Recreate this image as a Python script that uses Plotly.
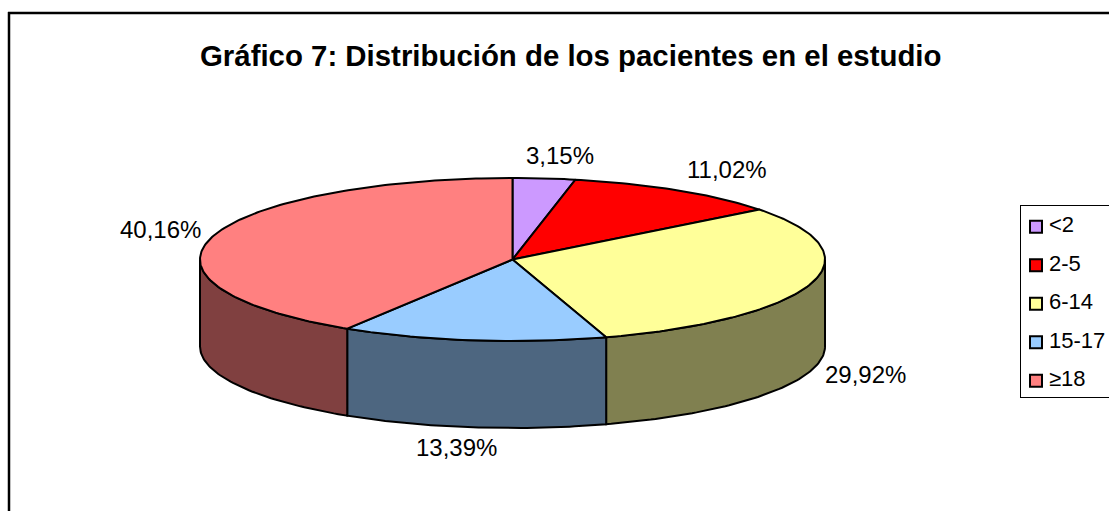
import numpy as np
import plotly.graph_objects as go

categories = ["<2", "2-5", "6-14", "15-17", "≥18"]
percent = [3.15, 11.02, 29.92, 13.39, 40.16]
labels = ["3,15%", "11,02%", "29,92%", "13,39%", "40,16%"]
top_colors = ["#CC99FF", "#FF0000", "#FFFF99", "#99CCFF", "#FF8080"]
side_colors = ["#664D80", "#800000", "#808050", "#4D6680", "#804040"]

W, H = 1109, 511
CX, CY, RX, RY, DEPTH = 512.5, 259.5, 312.5, 81.5, 87
FONT = "Liberation Sans, Arial"

def px(x): return x / W
def py(y): return 1 - y / H
def ax(x): return (x - CX) / RX
def ay(y): return (CY - y) / RY

fractions = np.array(percent) / sum(percent)
edges = np.concatenate([[0], np.cumsum(fractions)]) * 2 * np.pi

def arc(t0, t1, drop=0.0):
    n = max(int(abs(t1 - t0) * 60), 2)
    t = np.linspace(t0, t1, n)
    return np.sin(t), np.cos(t) - drop

drop = DEPTH / RY
fig = go.Figure()
line = dict(color="black", width=2)

# side walls: only the front half of the rim is visible
for i in range(len(percent)):
    a, b = max(edges[i], np.pi / 2), min(edges[i + 1], 3 * np.pi / 2)
    if b <= a:
        continue
    x0, y0 = arc(a, b)
    x1, y1 = arc(b, a, drop)
    fig.add_trace(go.Scatter(x=np.r_[x0, x1, x0[0]], y=np.r_[y0, y1, y0[0]], mode="lines",
                             fill="toself", fillcolor=side_colors[i], line=line,
                             showlegend=False, hoverinfo="skip"))
# top wedges
for i in range(len(percent)):
    x0, y0 = arc(edges[i], edges[i + 1])
    fig.add_trace(go.Scatter(x=np.r_[0, x0, 0], y=np.r_[0, y0, 0], mode="lines",
                             fill="toself", fillcolor=top_colors[i], line=line,
                             name=categories[i], text=labels[i], hoverinfo="text+name",
                             showlegend=False))
# legend keys and texts
legend_rows = 226.7 + 38.5 * np.arange(len(categories))
fig.add_trace(go.Scatter(x=[ax(1036)] * len(categories), y=ay(legend_rows), mode="markers",
                         marker=dict(symbol="square", size=12, color=top_colors,
                                     line=dict(color="black", width=2)),
                         showlegend=False, hoverinfo="skip", cliponaxis=False))
fig.add_trace(go.Scatter(x=[ax(1049)] * len(categories), y=ay(legend_rows), mode="text",
                         text=categories, textposition="middle right",
                         textfont=dict(family=FONT, size=22, color="black"),
                         showlegend=False, hoverinfo="skip", cliponaxis=False))

label_pos = [(560, 155.5), (727, 169.5), (865, 374), (456, 447.5), (160, 229.5)]
ann = [dict(text=t, x=px(x), y=py(y), xref="paper", yref="paper", showarrow=False,
            xanchor="center", yanchor="middle",
            font=dict(family=FONT, size=24, color="black"))
       for t, (x, y) in zip(labels, label_pos)]
ann.append(dict(text="<b>Gráfico 7: Distribución de los pacientes en el estudio</b>",
                x=px(570.5), y=py(55), xref="paper", yref="paper", showarrow=False,
                xanchor="center", yanchor="middle",
                font=dict(family=FONT, size=29.4, color="black")))

def seg(x0, y0, x1, y1, width):
    return dict(type="line", xref="paper", yref="paper", x0=x0, y0=y0, x1=x1, y1=y1,
                line=dict(color="black", width=width))

fig.update_layout(
    width=W, height=H, margin=dict(l=0, r=0, t=0, b=0, pad=0, autoexpand=False),
    paper_bgcolor="white", plot_bgcolor="white",
    xaxis=dict(visible=False, range=[-CX / RX, (W - CX) / RX], fixedrange=True),
    yaxis=dict(visible=False, range=[-(H - CY) / RY, CY / RY], fixedrange=True),
    annotations=ann,
    showlegend=False,
    shapes=[
        seg(px(8), py(13), 1, py(13), 2.5),
        seg(px(9), py(12), px(9), 0, 2.5),
        seg(px(1020.5), py(205.5), 1, py(205.5), 1),
        seg(px(1020.5), py(205), px(1020.5), py(397.5), 1),
        seg(px(1020), py(397.5), 1, py(397.5), 1),
    ],
)
fig.write_html("out.html", config=dict(displayModeBar=False),
               post_script="document.body.style.margin='0';document.documentElement.style.overflow='hidden';")
